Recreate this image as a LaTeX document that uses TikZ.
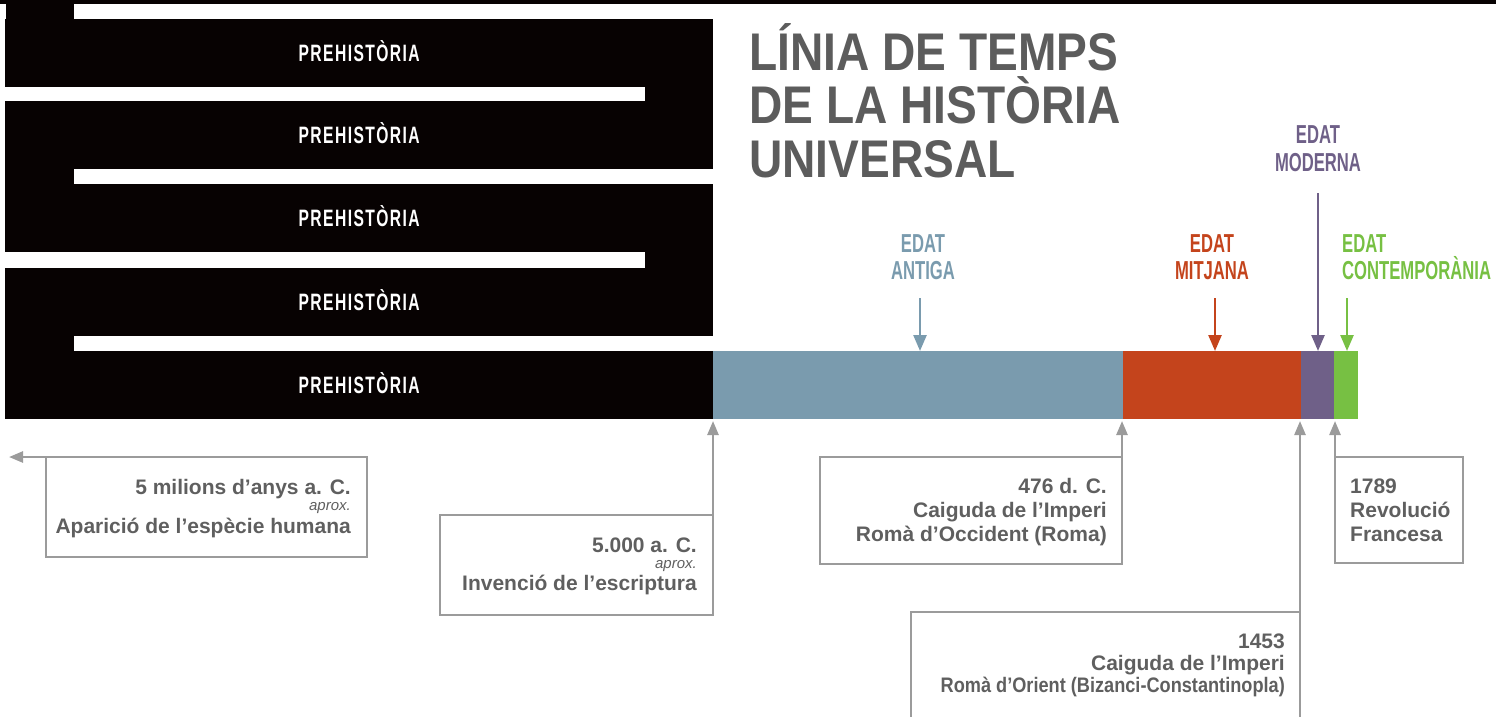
\documentclass[tikz,border=0pt]{standalone}
\usepackage{fontspec}
\setmainfont{Liberation Sans}
\newfontfamily\titlefont[FakeStretch=0.87]{Liberation Sans}
\newfontfamily\erafont[FakeStretch=0.64]{Liberation Sans}
\newfontfamily\bandfont[FakeStretch=0.66,LetterSpace=6]{Liberation Sans}
\newfontfamily\narrowfont[FakeStretch=0.865]{Liberation Sans}
\usetikzlibrary{arrows.meta,positioning}

\definecolor{bandblack}{HTML}{070202}
\definecolor{antiga}{HTML}{7A9BAE}
\definecolor{mitjana}{HTML}{C4441C}
\definecolor{moderna}{HTML}{6F6088}
\definecolor{contemp}{HTML}{77C043}
\definecolor{titlegray}{HTML}{5C5C5C}
\definecolor{boxgray}{HTML}{9B9B9B}
\definecolor{textgray}{HTML}{5F5F5F}

\newcommand{\aprox}{{\mdseries\itshape\fontsize{15}{24}\selectfont aprox.}}

\tikzset{
	band/.style={fill=bandblack, text=white, anchor=north west, minimum width=708pt, minimum height=68pt, inner sep=0pt, text height=17pt, text depth=0pt, font=\bandfont\bfseries\fontsize{23.7}{24}\selectfont},
	barseg/.style={anchor=west, minimum height=68pt, inner sep=0pt, outer sep=0pt},
	eralabel/.style={anchor=base, align=center, inner sep=0pt, font=\erafont\bfseries\fontsize{26}{27}\selectfont},
	eraarrow/.style={line width=2.5pt, -{Triangle[length=16pt,width=13pt]}},
	datebox/.style={draw=boxgray, line width=2.5pt, inner sep=0pt, outer sep=0pt},
	datetext/.style={align=right, inner sep=0pt, text=textgray, font=\bfseries\fontsize{21}{24}\selectfont},
	datearrow/.style={draw=boxgray, line width=2.5pt, -{Triangle[length=14pt,width=11pt]}, shorten >=2pt}
}

\begin{document}
\begin{tikzpicture}[x=1pt,y=-1pt]
	\useasboundingbox (0,0) rectangle (1496,716);
	\clip (0,0) rectangle (1496,716);

	% prehistoria, folded band
	\fill [bandblack] (0,0) rectangle (1496,4);
	\fill [bandblack] (6,0) rectangle (74,19);
	\foreach \y [count=\i] in {19,101,184,268,351}
		\node [band] (band\i) at (5,\y) {PREHISTÒRIA};
	\fill [bandblack] (645,87) rectangle (713,101);
	\fill [bandblack] (5,169) rectangle (74,184);
	\fill [bandblack] (645,252) rectangle (713,268);
	\fill [bandblack] (5,336) rectangle (74,351);

	% the other ages
	\node [barseg, fill=antiga, minimum width=410pt] (antigabar) at (713,385) {};
	\node [barseg, fill=mitjana, minimum width=178pt] (mitjanabar) at (antigabar.east) {};
	\node [barseg, fill=moderna, minimum width=33pt] (modernabar) at (mitjanabar.east) {};
	\node [barseg, fill=contemp, minimum width=24pt] (contempbar) at (modernabar.east) {};

	\node [anchor=base west, align=left, inner sep=0pt, text=titlegray, font=\titlefont\bfseries\fontsize{53}{53.5}\selectfont] (title) at (749,177) {LÍNIA DE TEMPS\\DE LA HISTÒRIA\\UNIVERSAL};

	\node [eralabel, text=antiga] (antiga) at (923,279) {EDAT\\ANTIGA};
	\node [eralabel, text=mitjana] (mitjana) at (1212,279) {EDAT\\MITJANA};
	\node [eralabel, text=moderna, font=\erafont\bfseries\fontsize{26}{28}\selectfont] (moderna) at (1318,171) {EDAT\\MODERNA};
	\node [eralabel, text=contemp, anchor=base west, align=left] (contemp) at (1342,279) {EDAT\\CONTEMPORÀNIA};

	\coordinate (antigatail) at (920,298);
	\coordinate (mitjanatail) at (1215,298);
	\coordinate (modernatail) at (1318,193);
	\coordinate (contemptail) at (1347,298);
	\draw [eraarrow, antiga] (antigatail) -- (antigatail |- antigabar.north);
	\draw [eraarrow, mitjana] (mitjanatail) -- (mitjanatail |- mitjanabar.north);
	\draw [eraarrow, moderna] (modernatail) -- (modernatail |- modernabar.north);
	\draw [eraarrow, contemp] (contemptail) -- (contemptail |- contempbar.north);

	% dates
	\node [datebox, minimum width=321pt, minimum height=100pt] (box5m) at (206.5,507) {};
	\node [datebox, minimum width=273pt, minimum height=100pt] (box5000) at (576.5,565) {};
	\node [datebox, minimum width=302pt, minimum height=107pt] (box476) at (971,510.5) {};
	\node [datebox, minimum width=389pt, minimum height=120pt] (box1453) at (1105.5,672) {};
	\node [datebox, minimum width=128pt, minimum height=106pt] (box1789) at (1399,510) {};

	\node [datetext, below left=76pt and 16pt of box5m.north east, anchor=base east] (text5m) {5 milions d’anys a. C.\\[-8pt]\aprox\\[-1pt]Aparició de l’espècie humana};
	\node [datetext, below left=75pt and 16pt of box5000.north east, anchor=base east] (text5000) {5.000 a. C.\\[-8pt]\aprox\\[-2pt]Invenció de l’escriptura};
	\node [datetext, below left=84pt and 15pt of box476.north east, anchor=base east] (text476) {476 d. C.\\Caiguda de l’Imperi\\Romà d’Occident (Roma)};
	\node [datetext, font=\bfseries\fontsize{21}{22}\selectfont, below left=80pt and 15pt of box1453.north east, anchor=base east] (text1453) {1453\\Caiguda de l’Imperi\\{\narrowfont Romà d’Orient (Bizanci-Constantinopla)}};
	\node [datetext, align=left, below right=84pt and 15pt of box1789.north west, anchor=base west] (text1789) {1789\\Revolució\\Francesa};

	\coordinate (farleft) at (9,457);
	\draw [datearrow, shorten >=0pt] (box5m.north west) -- (farleft);
	\draw [datearrow] (box5000.north east) -- (box5000.north east |- antigabar.south);
	\draw [datearrow] (box476.north east) -- (box476.north east |- antigabar.south);
	\draw [datearrow] (box1453.north east) -- (box1453.north east |- mitjanabar.south);
	\draw [datearrow] (box1789.north west) -- (box1789.north west |- modernabar.south);
\end{tikzpicture}
\end{document}
